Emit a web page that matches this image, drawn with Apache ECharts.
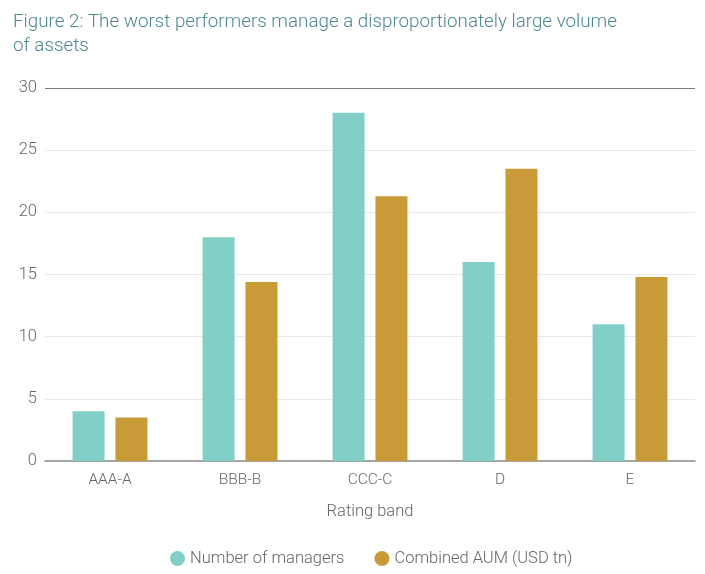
<!DOCTYPE html>
<html><head><meta charset="utf-8">
<script src="https://cdn.jsdelivr.net/npm/echarts@6/dist/echarts.min.js"></script>
<style>html,body{margin:0;padding:0;background:#fff}#c{width:705px;height:574px}</style>
</head><body><div id="c"></div>
<script>
const categories = ['AAA-A', 'BBB-B', 'CCC-C', 'D', 'E'];
const managers = [4, 18, 28, 16, 11];
const aum = [3.5, 14.4, 21.3, 23.5, 14.8];
const yTicks = [0, 5, 10, 15, 20, 25, 30];

const chart = echarts.init(document.getElementById('c'), null, {renderer: 'canvas'});
const font = 'Roboto, "Open Sans", sans-serif';
chart.setOption({
  animation: false,
  title: {
    text: 'Figure 2: The worst performers manage a disproportionately large volume\nof assets',
    left: 8, top: 5,
    textStyle: {fontFamily: font, fontWeight: 300, fontSize: 18.8, color: '#4d8790', lineHeight: 24}
  },
  legend: {
    bottom: 2, left: 165, icon: 'circle', itemWidth: 15, itemHeight: 15, itemGap: 30,
    textStyle: {fontFamily: font, fontWeight: 300, fontSize: 16.5, color: '#666'},
    data: ['Number of managers', 'Combined AUM (USD tn)']
  },
  grid: {left: 45, right: 10, top: 88, bottom: 113, containLabel: false},
  xAxis: {
    type: 'category', data: categories,
    name: 'Rating band', nameLocation: 'middle', nameGap: 42,
    nameTextStyle: {fontFamily: font, fontWeight: 300, fontSize: 16.5, color: '#666'},
    axisLine: {lineStyle: {color: '#8a8a8a', width: 1.5}},
    axisTick: {show: false},
    axisLabel: {fontFamily: font, fontWeight: 300, fontSize: 15.5, color: '#666', margin: 11}
  },
  yAxis: {
    type: 'value', min: 0, max: 30, interval: 5,
    axisLine: {show: false}, axisTick: {show: false},
    axisLabel: {fontFamily: font, fontWeight: 300, fontSize: 16.5, color: '#666', margin: 8,
      formatter: v => yTicks.includes(v) ? String(v) : ''},
    splitLine: {lineStyle: {color: ['#e8e8e8', '#e8e8e8', '#e8e8e8', '#e8e8e8', '#e8e8e8', '#e8e8e8', '#7a7a7a']}}
  },
  series: [
    {name: 'Number of managers', type: 'bar', data: managers, barWidth: 32, barGap: '34%',
     itemStyle: {color: '#81cfc6'}},
    {name: 'Combined AUM (USD tn)', type: 'bar', data: aum, barWidth: 32,
     itemStyle: {color: '#c99a38'}}
  ]
});
</script></body></html>
